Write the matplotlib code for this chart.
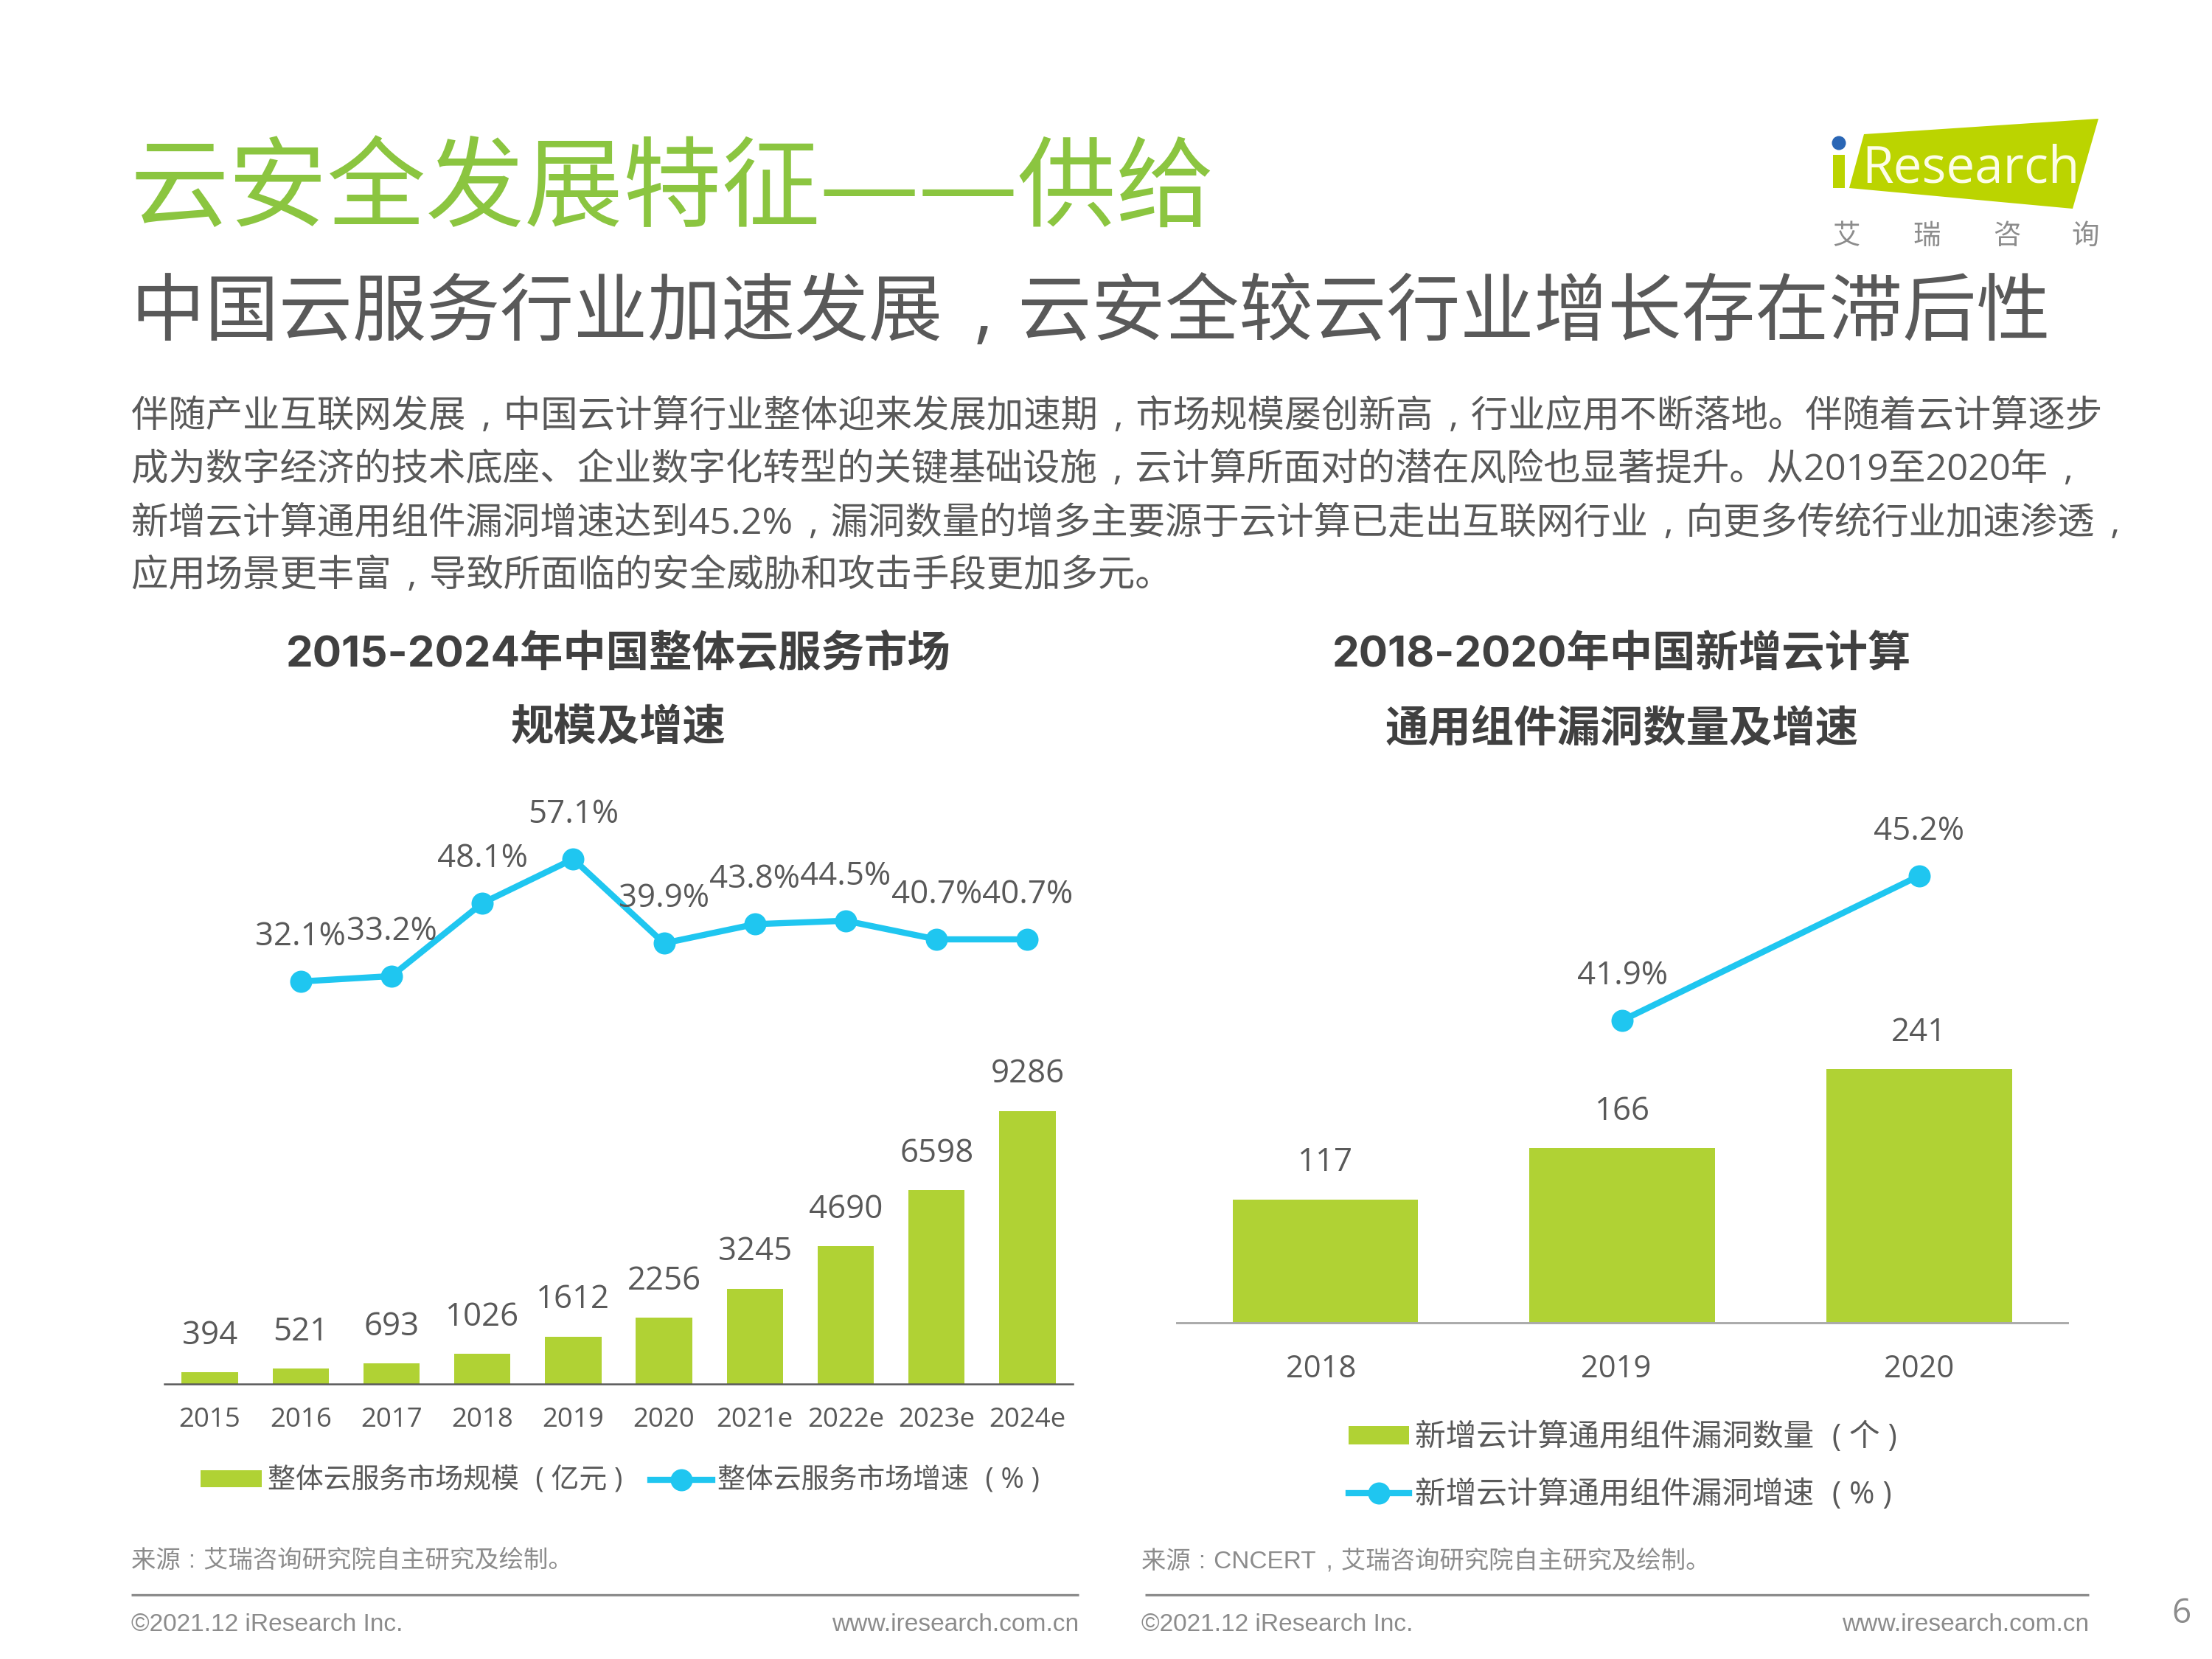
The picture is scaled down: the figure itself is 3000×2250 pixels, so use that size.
import matplotlib
matplotlib.use("Agg")
import matplotlib.pyplot as plt
from matplotlib.patches import Polygon, Circle, Rectangle
from matplotlib.transforms import ScaledTranslation

plt.rcParams["font.family"] = ["Open Sans", "Noto Sans CJK SC", "DejaVu Sans"]

W, H = 3000, 2250

GREEN = "#b0d234"
BLUE = "#1fc6f0"
GREY = "#595959"
FOOT = "#8c8c8c"
COMMA = "\u2004\u200a,\u2004"
COLON = "\u2004:\u2004"

# left chart
years_left = ["2015", "2016", "2017", "2018", "2019", "2020", "2021e", "2022e", "2023e", "2024e"]
market_size = [394, 521, 693, 1026, 1612, 2256, 3245, 4690, 6598, 9286]
market_growth = [32.1, 33.2, 48.1, 57.1, 39.9, 43.8, 44.5, 40.7, 40.7]

# right chart
years_right = ["2018", "2019", "2020"]
vuln_count = [117, 166, 241]
vuln_growth = [41.9, 45.2]

title = "云安全发展特征——供给"
subtitle = "中国云服务行业加速发展，云安全较云行业增长存在滞后性"
body_lines = [
    "伴随产业互联网发展，中国云计算行业整体迎来发展加速期，市场规模屡创新高，行业应用不断落地。伴随着云计算逐步",
    "成为数字经济的技术底座、企业数字化转型的关键基础设施，云计算所面对的潜在风险也显著提升。从2019至2020年，",
    "新增云计算通用组件漏洞增速达到45.2%，漏洞数量的增多主要源于云计算已走出互联网行业，向更多传统行业加速渗透，",
    "应用场景更丰富，导致所面临的安全威胁和攻击手段更加多元。",
]

fig = plt.figure(figsize=(10, 7.5), dpi=300)
fig.patch.set_facecolor("white")

# page layer in pixel coordinates
bg = fig.add_axes([0, 0, 1, 1])
bg.set_xlim(0, W)
bg.set_ylim(H, 0)
bg.axis("off")


def page_text(x, y, s, size, color=GREY, ha="left", **kw):
    bg.text(x, y, s.replace("，", COMMA).replace("：", COLON), fontsize=size, color=color, ha=ha, va="center", **kw)


page_text(176, 263, title, 32.1, color="#8bc540")
page_text(178, 428, subtitle, 24)
for y, line in zip([566, 638, 711, 782], body_lines):
    page_text(178, y, line, 12.1)

head_font = ["Inter", "Noto Sans CJK SC"]
page_text(839, 888, "2015-2024年中国整体云服务市场", 14, color="#404040", ha="center", fontweight="bold", family=head_font)
page_text(839, 990, "规模及增速", 14, color="#404040", ha="center", fontweight="bold")
page_text(2200, 888, "2018-2020年中国新增云计算", 14, color="#404040", ha="center", fontweight="bold", family=head_font)
page_text(2200, 990, "通用组件漏洞数量及增速", 14, color="#404040", ha="center", fontweight="bold")

src_font = ["Liberation Sans", "Noto Sans CJK SC"]
page_text(178, 2117, "来源：艾瑞咨询研究院自主研究及绘制。", 8, color=FOOT, family=src_font)
page_text(1548, 2117, "来源：CNCERT，艾瑞咨询研究院自主研究及绘制。", 8, color=FOOT, family=src_font)

# footer
for x0, x1, xt in [(178, 1463, 178), (1553, 2833, 1548)]:
    bg.plot([x0, x1], [2163, 2163], color=FOOT, lw=0.8, solid_capstyle="butt")
    page_text(xt, 2203, "©2021.12 iResearch Inc.", 8.05, color=FOOT, family="Liberation Sans")
    page_text(x1, 2203, "www.iresearch.com.cn", 8.05, color=FOOT, ha="right", family="Liberation Sans")
page_text(2959, 2189, "6", 11, color=FOOT, ha="center")

# logo
bg.add_patch(Polygon([(2528, 182), (2846, 161), (2811, 283), (2508, 255)], closed=True, color="#bbd400", lw=0))
bg.add_patch(Rectangle((2486, 210), 16, 45, color="#bbd400", lw=0))
bg.add_patch(Circle((2494, 194), 9.5, color="#2a66b5", lw=0))
bg.text(2525, 247, "Research", fontsize=16.6, color="#fdfde8", ha="left", va="baseline")
for x, ch in zip([2504, 2613, 2722, 2828], "艾瑞咨询"):
    page_text(x, 321, ch, 9, color="#8c8c8c", ha="center")


def chart_axes(x0, x1, y_top, y_base):
    ax = fig.add_axes([x0 / W, 1 - y_base / H, (x1 - x0) / W, (y_base - y_top) / H])
    ax.patch.set_alpha(0)
    for s in ["top", "left", "right"]:
        ax.spines[s].set_visible(False)
    ax.yaxis.set_visible(False)
    ax.tick_params(axis="x", length=0)
    return ax


def line_labels(ax, xs, ys):
    for x, v in zip(xs, ys):
        ax.annotate(f"{v}%", (x, v), xytext=(0, 14.5), textcoords="offset points",
                    ha="center", va="center", fontsize=10.5, color=GREY)


# left chart
ax1 = chart_axes(223, 1455, 1100, 1877)
x1 = list(range(len(years_left)))
bars1 = ax1.bar(x1, market_size, width=0.62, color=GREEN, label="整体云服务市场规模\u2004 ( 亿元 )")
ax1.bar_label(bars1, padding=6.6, fontsize=10.5, color=GREY)
ax1.set_xlim(-0.5, 9.5)
ax1.set_ylim(0, 9286 * 777 / 370)
ax1.set_xticks(x1)
ax1.set_xticklabels(years_left, fontsize=8.8, color=GREY)
ax1.tick_params(axis="x", pad=7.5)
ax1.spines["bottom"].set_color("#595959")
ax1.spines["bottom"].set_linewidth(0.6)

ax1b = ax1.twinx()
ax1b.patch.set_alpha(0)
ax1b.axis("off")
line1, = ax1b.plot(x1[1:], market_growth, color=BLUE, lw=2.0, marker="o", ms=6.2,
                   label="整体云服务市场增速\u2004 ( % )")
ax1b.set_ylim(-50.1, 66.9)
line_labels(ax1b, x1[1:], market_growth)
ax1b.legend(handles=[bars1, line1], loc="center", bbox_to_anchor=(841 / W, 1 - 2009 / H),
            bbox_transform=fig.transFigure, ncol=2, frameon=False, fontsize=9.1, labelcolor=GREY,
            handlelength=2.2, handleheight=0.55, handletextpad=0.2, columnspacing=1.0,
            borderpad=0, borderaxespad=0)

# right chart
ax2 = chart_axes(1596, 2804, 1100, 1794)
x2 = list(range(len(years_right)))
bars2 = ax2.bar(x2, vuln_count, width=0.625, color=GREEN, label="新增云计算通用组件漏洞数量\u2004 ( 个 )")
ax2.bar_label(bars2, padding=6.6, fontsize=10.5, color=GREY)
ax2.set_xlim(-0.5, 2.5)
ax2.set_ylim(0, 241 * 694 / 344)
ax2.set_xticks(x2)
ax2.set_xticklabels(years_right, fontsize=10, color=GREY)
ax2.tick_params(axis="x", pad=10)
ax2.spines["bottom"].set_color("#aaaaaa")
ax2.spines["bottom"].set_linewidth(0.7)
# the year labels sit a little left of their bars
for lab, dx in zip(ax2.get_xticklabels(), [-6, -8, 0]):
    lab.set_transform(lab.get_transform() + ScaledTranslation(dx / 300, 0, fig.dpi_scale_trans))

ax2b = ax2.twinx()
ax2b.patch.set_alpha(0)
ax2b.axis("off")
line2, = ax2b.plot(x2[1:], vuln_growth, color=BLUE, lw=2.0, marker="o", ms=6.2,
                   label="新增云计算通用组件漏洞增速\u2004 ( % )")
ax2b.set_ylim(35.0, 46.68)
line_labels(ax2b, x2[1:], vuln_growth)
ax2b.legend(handles=[bars2, line2], loc="center", bbox_to_anchor=(2201 / W, 1 - 1989 / H),
            bbox_transform=fig.transFigure, ncol=1, frameon=False, fontsize=10, labelcolor=GREY,
            handlelength=1.95, handleheight=0.55, handletextpad=0.2, labelspacing=0.85,
            borderpad=0, borderaxespad=0)

fig.savefig("out.png", dpi=300)
